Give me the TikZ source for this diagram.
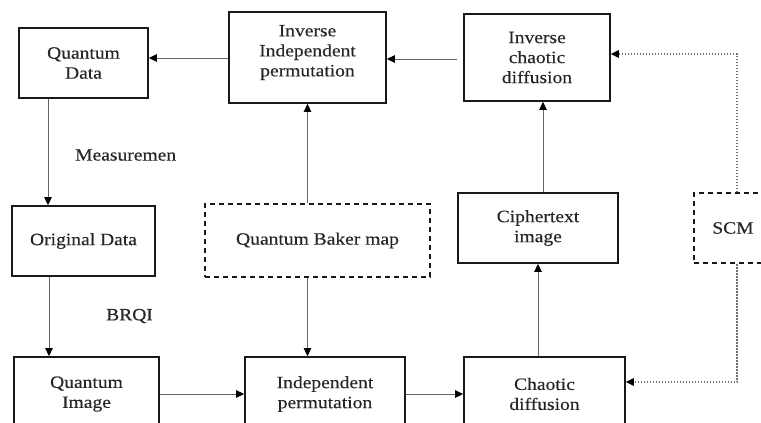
\documentclass[tikz,border=0pt]{standalone}
\usepackage{fontspec}
\setmainfont[FakeStretch=1.13,FakeBold=0.3]{Liberation Serif}
\usetikzlibrary{arrows.meta}
\begin{document}
\begin{tikzpicture}[x=1pt,y=-1pt,
  box/.style={draw=black!90, line width=1.7pt, align=center, inner sep=0pt,
    font=\fontsize{17.3}{20}\selectfont, text=black!85},
  dbox/.style={box, line width=1.4pt, dash pattern=on 5pt off 4pt},
  arr/.style={draw=black!60, line width=1pt, -{Triangle[length=8pt,width=7.5pt,color=black]}},
  darr/.style={arr, draw=black!55, line width=1.3pt, dash pattern=on 1.8pt off 1.2pt},
  lbl/.style={font=\fontsize{17.3}{20}\selectfont, text=black!85, inner sep=0pt, align=center}
]
\useasboundingbox (0,0) rectangle (761,423);
% top row
\node[box, minimum width=129pt, minimum height=70pt] (qd) at (83.5,63) {Quantum\\Data};
\node[box, minimum width=157pt, minimum height=91pt] (iip) at (307.5,57.5) {};
\node[lbl] (iiptext) at ([yshift=5pt]iip.center) {Inverse\\Independent\\permutation};
\node[box, minimum width=146pt, minimum height=87pt] (icd) at (537,57.5) {Inverse\\chaotic\\diffusion};
% middle row
\node[box, minimum width=143pt, minimum height=70pt] (od) at (83.5,241) {Original Data};
\node[dbox, minimum width=225pt, minimum height=73pt] (qbm) at (317.5,240.5) {Quantum Baker map};
\node[box, minimum width=160pt, minimum height=70pt] (ci) at (538,228) {Ciphertext\\image};
\node[dbox, minimum width=78pt, minimum height=70pt] (scm) at (733,228) {SCM};
% bottom row
\node[box, minimum width=145pt, minimum height=74pt] (qi) at (86.5,394) {Quantum\\Image};
\node[box, minimum width=160pt, minimum height=74pt] (ip) at (325,394) {Independent\\permutation};
\node[box, minimum width=161pt, minimum height=74pt] (cd) at (544.5,394) {Chaotic\\diffusion};
% labels
\node[lbl, anchor=west] (mlab) at (75,155) {Measuremen};
\node[lbl, anchor=west] (blab) at (106,316) {BRQI};
% connectors
\draw[arr] ([yshift=-0.5pt]iip.west) -- ([yshift=-0.5pt]iip.west -| qd.east);
\draw[arr] ([xshift=-6pt,yshift=-1.5pt]icd.west) -- ([yshift=-1.5pt]icd.west -| iip.east);
\coordinate (m1) at ([xshift=-35.5pt]qd.south);
\draw[arr] (m1) -- (m1 |- od.north);
\coordinate (b1) at ([xshift=-34.5pt]od.south);
\draw[arr] (b1) -- (b1 |- qi.north);
\draw[arr] (qi.east) -- (ip.west);
\draw[arr] (ip.east) -- (cd.west);
\draw[arr] (qbm.north -| iip.south) -- (iip.south);
\draw[arr] (qbm.south -| iip.south) -- (ip.north -| iip.south);
\draw[arr] (cd.north -| ci.south) -- (ci.south);
\coordinate (c1) at ([xshift=5pt]ci.north);
\draw[arr] (c1) -- (c1 |- icd.south);
\draw[darr] ([xshift=4pt]scm.north) |- ([yshift=3.5pt]icd.east);
\draw[darr] ([xshift=4pt]scm.south) |- ([yshift=12pt]cd.east);
\end{tikzpicture}
\end{document}
